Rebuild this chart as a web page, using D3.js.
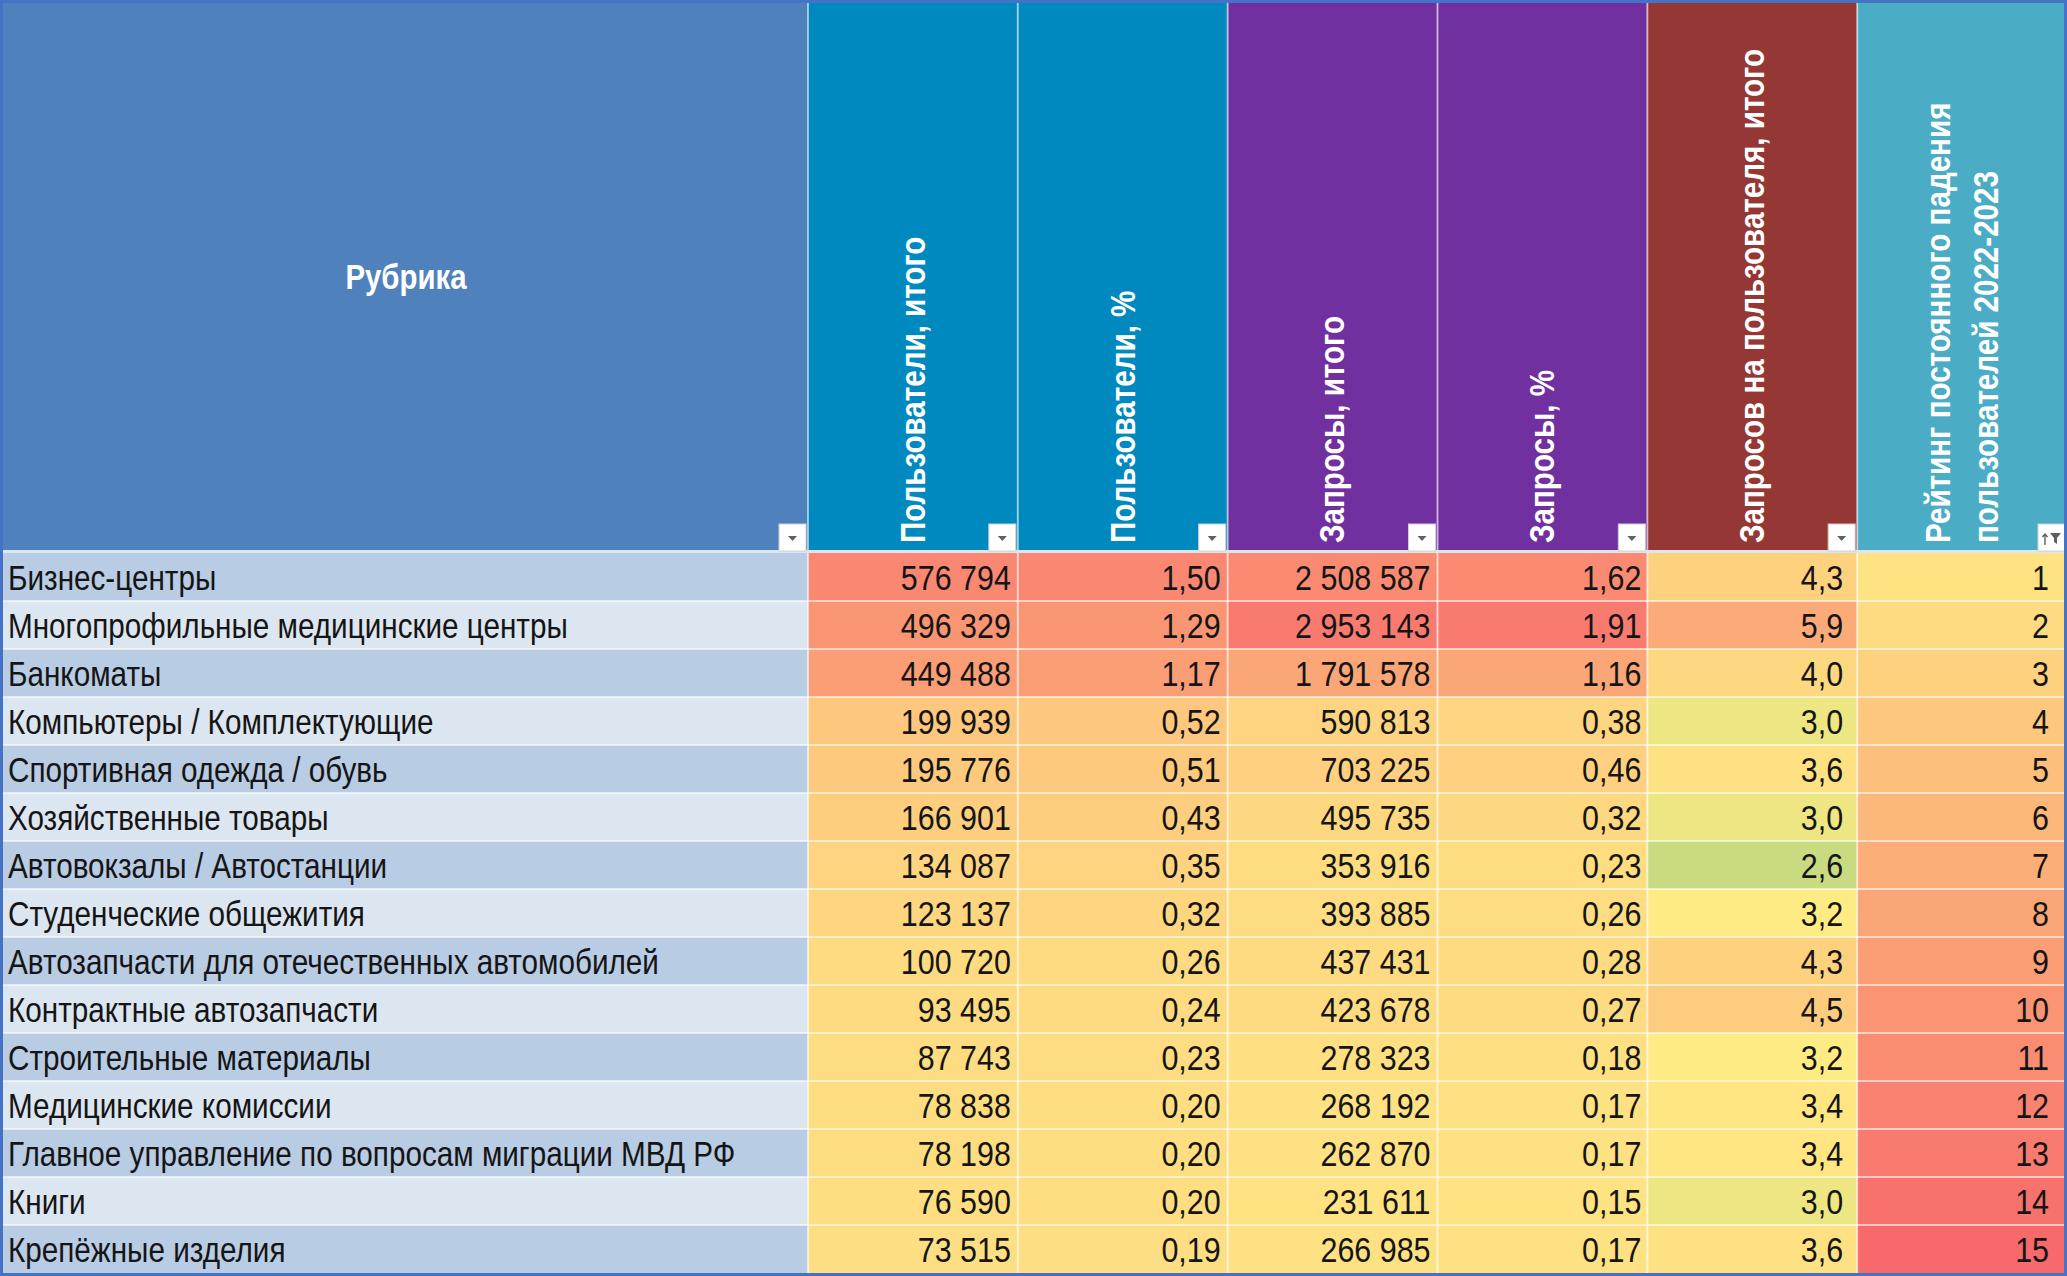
<!DOCTYPE html>
<html><head><meta charset="utf-8">
<script src="https://cdn.jsdelivr.net/npm/d3@7/dist/d3.min.js"></script>
<style>html,body{margin:0;padding:0;background:#fff;} svg{display:block}</style>
</head><body>
<svg id="chart" width="2067" height="1276"></svg>
<script>
// ---- data ----
const categories = [
  "Бизнес-центры",
  "Многопрофильные медицинские центры",
  "Банкоматы",
  "Компьютеры / Комплектующие",
  "Спортивная одежда / обувь",
  "Хозяйственные товары",
  "Автовокзалы / Автостанции",
  "Студенческие общежития",
  "Автозапчасти для отечественных автомобилей",
  "Контрактные автозапчасти",
  "Строительные материалы",
  "Медицинские комиссии",
  "Главное управление по вопросам миграции МВД РФ",
  "Книги",
  "Крепёжные изделия"
];
const users       = [576794, 496329, 449488, 199939, 195776, 166901, 134087, 123137, 100720, 93495, 87743, 78838, 78198, 76590, 73515];
const usersPct    = [1.50, 1.29, 1.17, 0.52, 0.51, 0.43, 0.35, 0.32, 0.26, 0.24, 0.23, 0.20, 0.20, 0.20, 0.19];
const requests    = [2508587, 2953143, 1791578, 590813, 703225, 495735, 353916, 393885, 437431, 423678, 278323, 268192, 262870, 231611, 266985];
const requestsPct = [1.62, 1.91, 1.16, 0.38, 0.46, 0.32, 0.23, 0.26, 0.28, 0.27, 0.18, 0.17, 0.17, 0.15, 0.17];
const perUser     = [4.3, 5.9, 4.0, 3.0, 3.6, 3.0, 2.6, 3.2, 4.3, 4.5, 3.2, 3.4, 3.4, 3.0, 3.6];
const rating      = [1, 2, 3, 4, 5, 6, 7, 8, 9, 10, 11, 12, 13, 14, 15];

const labelHeader = "Рубрика";
const columnHeaders = [
  ["Пользователи, итого"],
  ["Пользователи, %"],
  ["Запросы, итого"],
  ["Запросы, %"],
  ["Запросов на пользователя, итого"],
  ["Рейтинг постоянного падения", "пользователей 2022-2023"]
];
const columnValues = [users, usersPct, requests, requestsPct, perUser, rating];

// ---- layout / styles ----
const W = 2067, H = 1276;
const headerTop = 3, headerBottom = 551, rowsTop = 553, rowsBottom = 1273;
const labelRight = 808;
const cellPadRight = [7, 7, 7, 6, 14, 18];
const headerColors = ["#0089BF", "#0089BF", "#7030A0", "#7030A0", "#953735", "#4BACC6"];
const GREEN = "#63BE7B", YELLOW = "#FFEB84", RED = "#F8696B";
const FONT = "'Liberation Sans', Arial, sans-serif";

const ru = d3.formatLocale({decimal: ",", thousands: "\u00a0", grouping: [3], currency: ["", " ₽"]});
const formats = [ru.format(",d"), ru.format(".2f"), ru.format(",d"), ru.format(".2f"), ru.format(".1f"), ru.format("d")];

const yr = (lo, hi) => d3.scaleLinear().domain([lo, hi]).range([YELLOW, RED]).interpolate(d3.interpolateRgb).clamp(true);
const colorScales = [
  yr(0, 750000),
  yr(0, 1.95),
  yr(0, 3400000),
  yr(0, 2.2),
  d3.scaleLinear().domain([1.5, 3.2, 8.6]).range([GREEN, YELLOW, RED]).interpolate(d3.interpolateRgb).clamp(true),
  yr(0, 15)
];

const svg = d3.select("#chart");
const colIdx = d3.range(columnHeaders.length);
const x = d3.scaleBand().domain(colIdx).range([labelRight, W]);
const y = d3.scaleBand().domain(d3.range(categories.length)).range([rowsTop, rowsBottom]);

svg.append("rect").attr("width", W).attr("height", H).attr("fill", "#ffffff");

// header backgrounds
svg.append("rect").attr("x", 0).attr("y", headerTop).attr("width", labelRight).attr("height", headerBottom - headerTop).attr("fill", "#4F81BD");
svg.selectAll("rect.hdr").data(colIdx).join("rect").attr("class", "hdr")
  .attr("x", d => x(d)).attr("y", headerTop).attr("width", x.bandwidth()).attr("height", headerBottom - headerTop)
  .attr("fill", d => headerColors[d]);
// header separators
svg.selectAll("line.hsep").data(colIdx).join("line").attr("class", "hsep")
  .attr("x1", d => x(d)).attr("x2", d => x(d)).attr("y1", headerTop).attr("y2", headerBottom)
  .attr("stroke", "#ffffff").attr("stroke-opacity", 0.55).attr("stroke-width", 2);
svg.append("rect").attr("x", 0).attr("y", headerBottom - 1).attr("width", W).attr("height", 3).attr("fill", "#DCE6F1");

// header texts
svg.append("text").attr("transform", `translate(${labelRight / 2 + 2},${(headerTop + headerBottom) / 2}) scale(0.84,1)`)
  .attr("text-anchor", "middle").attr("dominant-baseline", "central")
  .attr("font-family", FONT).attr("font-weight", "bold").attr("font-size", 35)
  .attr("fill", "#ffffff").text(labelHeader);

colIdx.forEach(ci => {
  const lines = columnHeaders[ci];
  const cx = x(ci) + x.bandwidth() / 2;
  lines.forEach((ln, li) => {
    const off = (li - (lines.length - 1) / 2) * 48;
    svg.append("text")
      .attr("transform", `translate(${cx + off},${headerBottom - 8}) rotate(-90) scale(0.845,1)`)
      .attr("text-anchor", "start").attr("dominant-baseline", "central")
      .attr("font-family", FONT).attr("font-weight", "bold").attr("font-size", 35)
      .attr("fill", "#ffffff").text(ln);
  });
});

// filter buttons
const btnRights = [labelRight].concat(colIdx.map(ci => x(ci) + x.bandwidth()));
btnRights.forEach((r, i) => {
  const bx = r - 29, by = headerBottom - 27;
  svg.append("rect").attr("x", bx).attr("y", by).attr("width", 27).attr("height", 27)
    .attr("fill", "#ffffff").attr("stroke", "#d0d0d0").attr("stroke-width", 1);
  if (i < btnRights.length - 1) {
    svg.append("path").attr("d", `M${bx + 9},${by + 12}h9l-4.5,5z`).attr("fill", "#606060");
  } else {
    svg.append("path").attr("d", `M${bx + 12},${by + 9}h11l-4,5v6l-3,-2v-4z`).attr("fill", "#606060");
    svg.append("path").attr("d", `M${bx + 7},${by + 21}v-11M${bx + 4.5},${by + 13}l2.5,-3l2.5,3`)
      .attr("stroke", "#606060").attr("stroke-width", 1.4).attr("fill", "none");
  }
});

// label column
const rows = d3.range(categories.length);
svg.selectAll("rect.lbl").data(rows).join("rect").attr("class", "lbl")
  .attr("x", 0).attr("y", d => y(d)).attr("width", labelRight).attr("height", y.bandwidth())
  .attr("fill", d => d % 2 === 0 ? "#B8CCE4" : "#DCE6F1");
svg.selectAll("g.lbltxt").data(rows).join("g").attr("class", "lbltxt")
  .attr("transform", d => `translate(8,${y(d) + 37}) scale(0.848,1)`)
  .append("text").attr("font-family", FONT).attr("font-size", 35)
  .attr("fill", "#151515").text(d => categories[d]);

// data cells
colIdx.forEach(ci => {
  const vals = columnValues[ci];
  svg.selectAll(`rect.c${ci}`).data(rows).join("rect").attr("class", `c${ci}`)
    .attr("x", x(ci)).attr("y", d => y(d)).attr("width", x.bandwidth()).attr("height", y.bandwidth())
    .attr("fill", d => colorScales[ci](vals[d]));
  svg.selectAll(`g.t${ci}`).data(rows).join("g").attr("class", `t${ci}`)
    .attr("transform", d => `translate(${x(ci) + x.bandwidth() - cellPadRight[ci]},${y(d) + 37}) scale(0.87,1)`)
    .append("text").attr("text-anchor", "end")
    .attr("font-family", FONT).attr("font-size", 35)
    .attr("fill", "#151515").text(d => formats[ci](vals[d]));
});

// grid lines
svg.selectAll("line.rsep").data(rows.slice(1)).join("line").attr("class", "rsep")
  .attr("x1", 0).attr("x2", W).attr("y1", d => y(d)).attr("y2", d => y(d))
  .attr("stroke", "#ffffff").attr("stroke-opacity", 0.6).attr("stroke-width", 2);
svg.selectAll("line.csep").data(colIdx).join("line").attr("class", "csep")
  .attr("x1", d => x(d)).attr("x2", d => x(d)).attr("y1", rowsTop).attr("y2", rowsBottom)
  .attr("stroke", "#ffffff").attr("stroke-opacity", 0.6).attr("stroke-width", 2);

// outer border
svg.append("rect").attr("x", 1.5).attr("y", 1.5).attr("width", W - 3).attr("height", H - 3)
  .attr("fill", "none").attr("stroke", "#4472C4").attr("stroke-width", 3);
</script>
</body></html>
